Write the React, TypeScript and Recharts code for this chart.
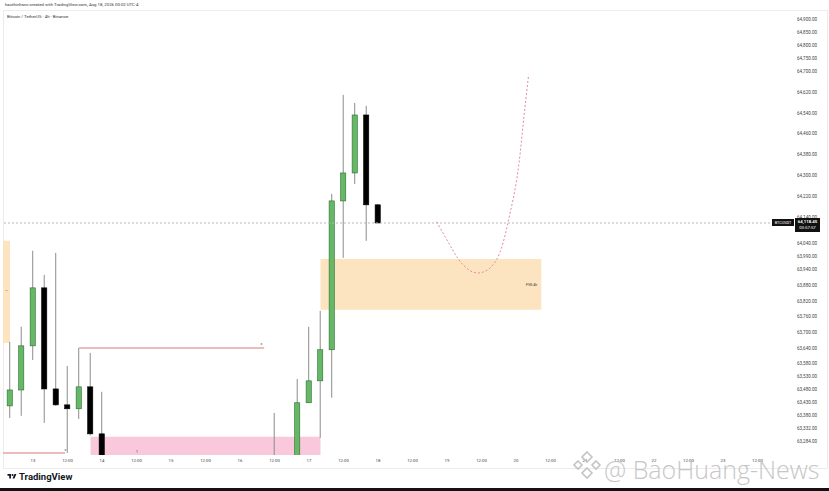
import React from 'react';
import {
  ComposedChart,
  Bar,
  Line,
  XAxis,
  YAxis,
  ReferenceArea,
  ReferenceLine,
} from 'recharts';

// 4h slots counted from Aug 12 16:00 (slot 0)
const slots = [0, 1, 2, 3, 4, 5, 6, 7, 8, 23, 25, 26, 27, 28, 29, 30, 31, 32];
const opens = [63418, 63479, 63648, 63870, 63483, 63422, 63407, 63491, 63311, 63180, 63190, 63430, 63514, 63633, 64203, 64310, 64532, 64188];
const highs = [63663, 63721, 64012, 63920, 64004, 63571, 63640, 63621, 63472, 63391, 63521, 63721, 63782, 64230, 64609, 64578, 64567, 64190];
const lows = [63372, 63380, 63594, 63353, 63418, 63238, 63368, 63305, 63150, 63100, 63150, 63430, 63296, 63449, 63985, 64268, 64050, 64118];
const closes = [63479, 63648, 63870, 63483, 63422, 63407, 63491, 63311, 63190, 63200, 63430, 63514, 63633, 64203, 64310, 64532, 64188, 64118.45];

const lastPrice = 64118.45;

const priceTicks = [
  64900, 64850, 64800, 64750, 64700, 64620, 64540, 64460, 64380, 64300, 64220, 64140,
  64040, 63990, 63940, 63880, 63820, 63760, 63700, 63640, 63580, 63530, 63480, 63430,
  63380, 63332, 63284,
];

const timeLabels = [
  '13', '12:00', '14', '12:00', '15', '12:00', '16', '12:00', '17', '12:00', '18',
  '12:00', '19', '12:00', '20', '12:00', '21', '12:00', '22', '12:00', '23', '12:00',
];

// hand-drawn projection path
const projSlots = [37.1, 38.5, 39.4, 40.7, 42.3, 43.3, 44.1, 44.6, 45.1];
const projPrices = [64123, 64015, 63958, 63927, 63977, 64119, 64295, 64486, 64686];

const candles = slots.map((slot, i) => ({
  slot,
  open: opens[i],
  high: highs[i],
  low: lows[i],
  close: closes[i],
}));
const projection = projSlots.map((slot, i) => ({ slot, proj: projPrices[i] }));
const timeTicks = timeLabels.map((_, i) => 2 + i * 3);

const fmtPrice = (v: number) =>
  v.toLocaleString('en-US', { minimumFractionDigits: 2, maximumFractionDigits: 2 });

function CandleShape(props: any) {
  const { x, y, width, height, payload } = props;
  if (!payload || height == null) return null;
  const { open, close, high, low } = payload;
  const k = height / (high - low);
  const cx = x + width / 2;
  const yOpen = y + (high - open) * k;
  const yClose = y + (high - close) * k;
  const up = close >= open;
  const top = Math.min(yOpen, yClose);
  const h = Math.max(1.5, Math.abs(yOpen - yClose));
  return (
    <g>
      <line x1={cx} x2={cx} y1={y} y2={y + height} stroke="#8c8c8c" strokeWidth={1} />
      <rect
        x={x}
        y={top}
        width={width}
        height={h}
        fill={up ? '#64b866' : '#000'}
        stroke={up ? '#2f6b31' : '#000'}
        strokeWidth={0.6}
      />
    </g>
  );
}

const tinyMark = (left: number, top: number, text: string) => (
  <div style={{ position: 'absolute', left, top, fontSize: 3.5, color: '#333', lineHeight: 1 }}>{text}</div>
);

export default function App() {
  return (
    <div
      style={{
        position: 'relative',
        width: 829,
        height: 491,
        background: '#fff',
        fontFamily: 'Roboto, "Liberation Sans", sans-serif',
        overflow: 'hidden',
      }}
    >
      <style>{'body{margin:0}'}</style>

      {/* pane frame */}
      <div
        style={{
          position: 'absolute',
          left: 3,
          top: 10,
          width: 823,
          height: 457,
          border: '1px solid #ececec',
        }}
      />

      <div style={{ position: 'absolute', left: 5, top: 2, fontSize: 4.3, color: '#333', whiteSpace: 'nowrap' }}>
        hauthinhsnc created with TradingView.com, Aug 18, 2026 00:02 UTC-4
      </div>
      <div style={{ position: 'absolute', left: 7, top: 13.5, fontSize: 4.3, color: '#333', whiteSpace: 'nowrap' }}>
        Bitcoin / TetherUS · 4h · Binance
      </div>

      <div style={{ position: 'absolute', left: 0, top: 0 }}>
        <ComposedChart
          width={829}
          height={468}
          data={candles}
          margin={{ top: 10, right: 0, left: 3, bottom: 0 }}
        >
          <XAxis
            dataKey="slot"
            type="number"
            domain={[-0.61, 66.09]}
            allowDataOverflow
            ticks={timeTicks}
            interval={0}
            tickFormatter={(v: number) => timeLabels[(v - 2) / 3] ?? ''}
            axisLine={false}
            tickLine={false}
            tickSize={0}
            tickMargin={3.5}
            height={13}
            tick={{ fontSize: 4.3, fill: '#444' }}
          />
          <YAxis
            orientation="right"
            type="number"
            domain={[63230, 64934]}
            allowDataOverflow
            ticks={priceTicks}
            interval={0}
            tickFormatter={fmtPrice}
            axisLine={false}
            tickLine={false}
            tickSize={0}
            tickMargin={27}
            width={59}
            tick={{ fontSize: 4.6, fill: '#444' }}
          />

          <ReferenceArea x1={-0.61} x2={0} y1={63659} y2={64050} fill="#fde4c0" fillOpacity={1} ifOverflow="hidden" />
          <ReferenceArea
            x1={27}
            x2={46.2}
            y1={63786}
            y2={63981}
            fill="#fde4c0"
            fillOpacity={1}
            ifOverflow="hidden"
            label={{ value: 'FVG 4h', position: 'insideRight', offset: 4, fontSize: 3.5, fill: '#333' }}
          />
          <ReferenceArea x1={7} x2={27} y1={63100} y2={63300} fill="#f9c8da" fillOpacity={1} ifOverflow="hidden" />

          <ReferenceLine
            segment={[{ x: 6, y: 63640 }, { x: 22.1, y: 63640 }]}
            stroke="#e6a4a4"
            strokeWidth={1.5}
            ifOverflow="hidden"
          />
          <ReferenceLine
            segment={[{ x: -0.61, y: 63238 }, { x: 4.8, y: 63238 }]}
            stroke="#e6a4a4"
            strokeWidth={1.5}
            ifOverflow="hidden"
          />
          <ReferenceLine y={lastPrice} stroke="#b8b8b8" strokeDasharray="2 2" strokeWidth={1} />

          <Bar
            dataKey={(d: any) => [d.low, d.high]}
            barSize={9}
            shape={CandleShape}
            isAnimationActive={false}
          />
          <Line
            data={projection}
            dataKey="proj"
            type="natural"
            stroke="#e08ca0"
            strokeWidth={1}
            strokeDasharray="2 2"
            dot={false}
            activeDot={false}
            isAnimationActive={false}
          />
        </ComposedChart>
      </div>

      {/* small drawing markers */}
      {tinyMark(260.5, 343, 'x')}
      {tinyMark(64.5, 449, 'x')}
      {tinyMark(136, 451, '1')}
      {tinyMark(5, 289.5, '—')}

      {/* last price label */}
      <div
        style={{
          position: 'absolute',
          left: 772,
          top: 219,
          width: 22,
          height: 7,
          background: '#111',
          color: '#fff',
          fontSize: 3.8,
          lineHeight: '7px',
          textAlign: 'center',
        }}
      >
        BTCUSDT
      </div>
      <div
        style={{
          position: 'absolute',
          left: 795,
          top: 217.5,
          width: 25,
          height: 14,
          background: '#111',
          color: '#fff',
          fontSize: 4.3,
          lineHeight: '6px',
          paddingTop: 1,
          boxSizing: 'border-box',
          textAlign: 'center',
        }}
      >
        <div style={{ fontWeight: 700 }}>{fmtPrice(lastPrice)}</div>
        <div>03:57:57</div>
      </div>

      {/* TradingView logo */}
      <div
        style={{
          position: 'absolute',
          left: 7,
          top: 471,
          display: 'flex',
          alignItems: 'center',
          gap: 2,
          fontSize: 9.5,
          fontWeight: 700,
          color: '#131722',
          whiteSpace: 'nowrap',
        }}
      >
        <svg width={10} height={7} viewBox="0 0 36 28">
          <path d="M14 22H7V11H0V4h14v18zM28 22h-8l7.5-18h8L28 22z" fill="#131722" />
          <circle cx={20} cy={8} r={4} fill="#131722" />
        </svg>
        <span>TradingView</span>
      </div>

      {/* watermark */}
      <svg style={{ position: 'absolute', left: 571, top: 450 }} width={32} height={30} viewBox="0 0 32 30">
        <g fill="none" stroke="#c4c4c4" strokeWidth={1.6}>
          <path d="M16 2 L21 7 L16 12 L11 7 Z" />
          <path d="M7 11 L11 15 L7 19 L3 15 Z" />
          <path d="M25 11 L29 15 L25 19 L21 15 Z" />
          <path d="M16 18 L21 23 L16 28 L11 23 Z" />
        </g>
      </svg>
      <div
        style={{
          position: 'absolute',
          left: 604,
          top: 452,
          fontSize: 25,
          fontWeight: 300,
          fontFamily: '"Open Sans", "Noto Sans", sans-serif',
          color: '#c2c2c2',
          whiteSpace: 'nowrap',
          opacity: 0.9,
        }}
      >
        @ BaoHuang-News
      </div>

      <div style={{ position: 'absolute', left: 0, top: 488, width: 829, height: 3, background: '#111' }} />
    </div>
  );
}
